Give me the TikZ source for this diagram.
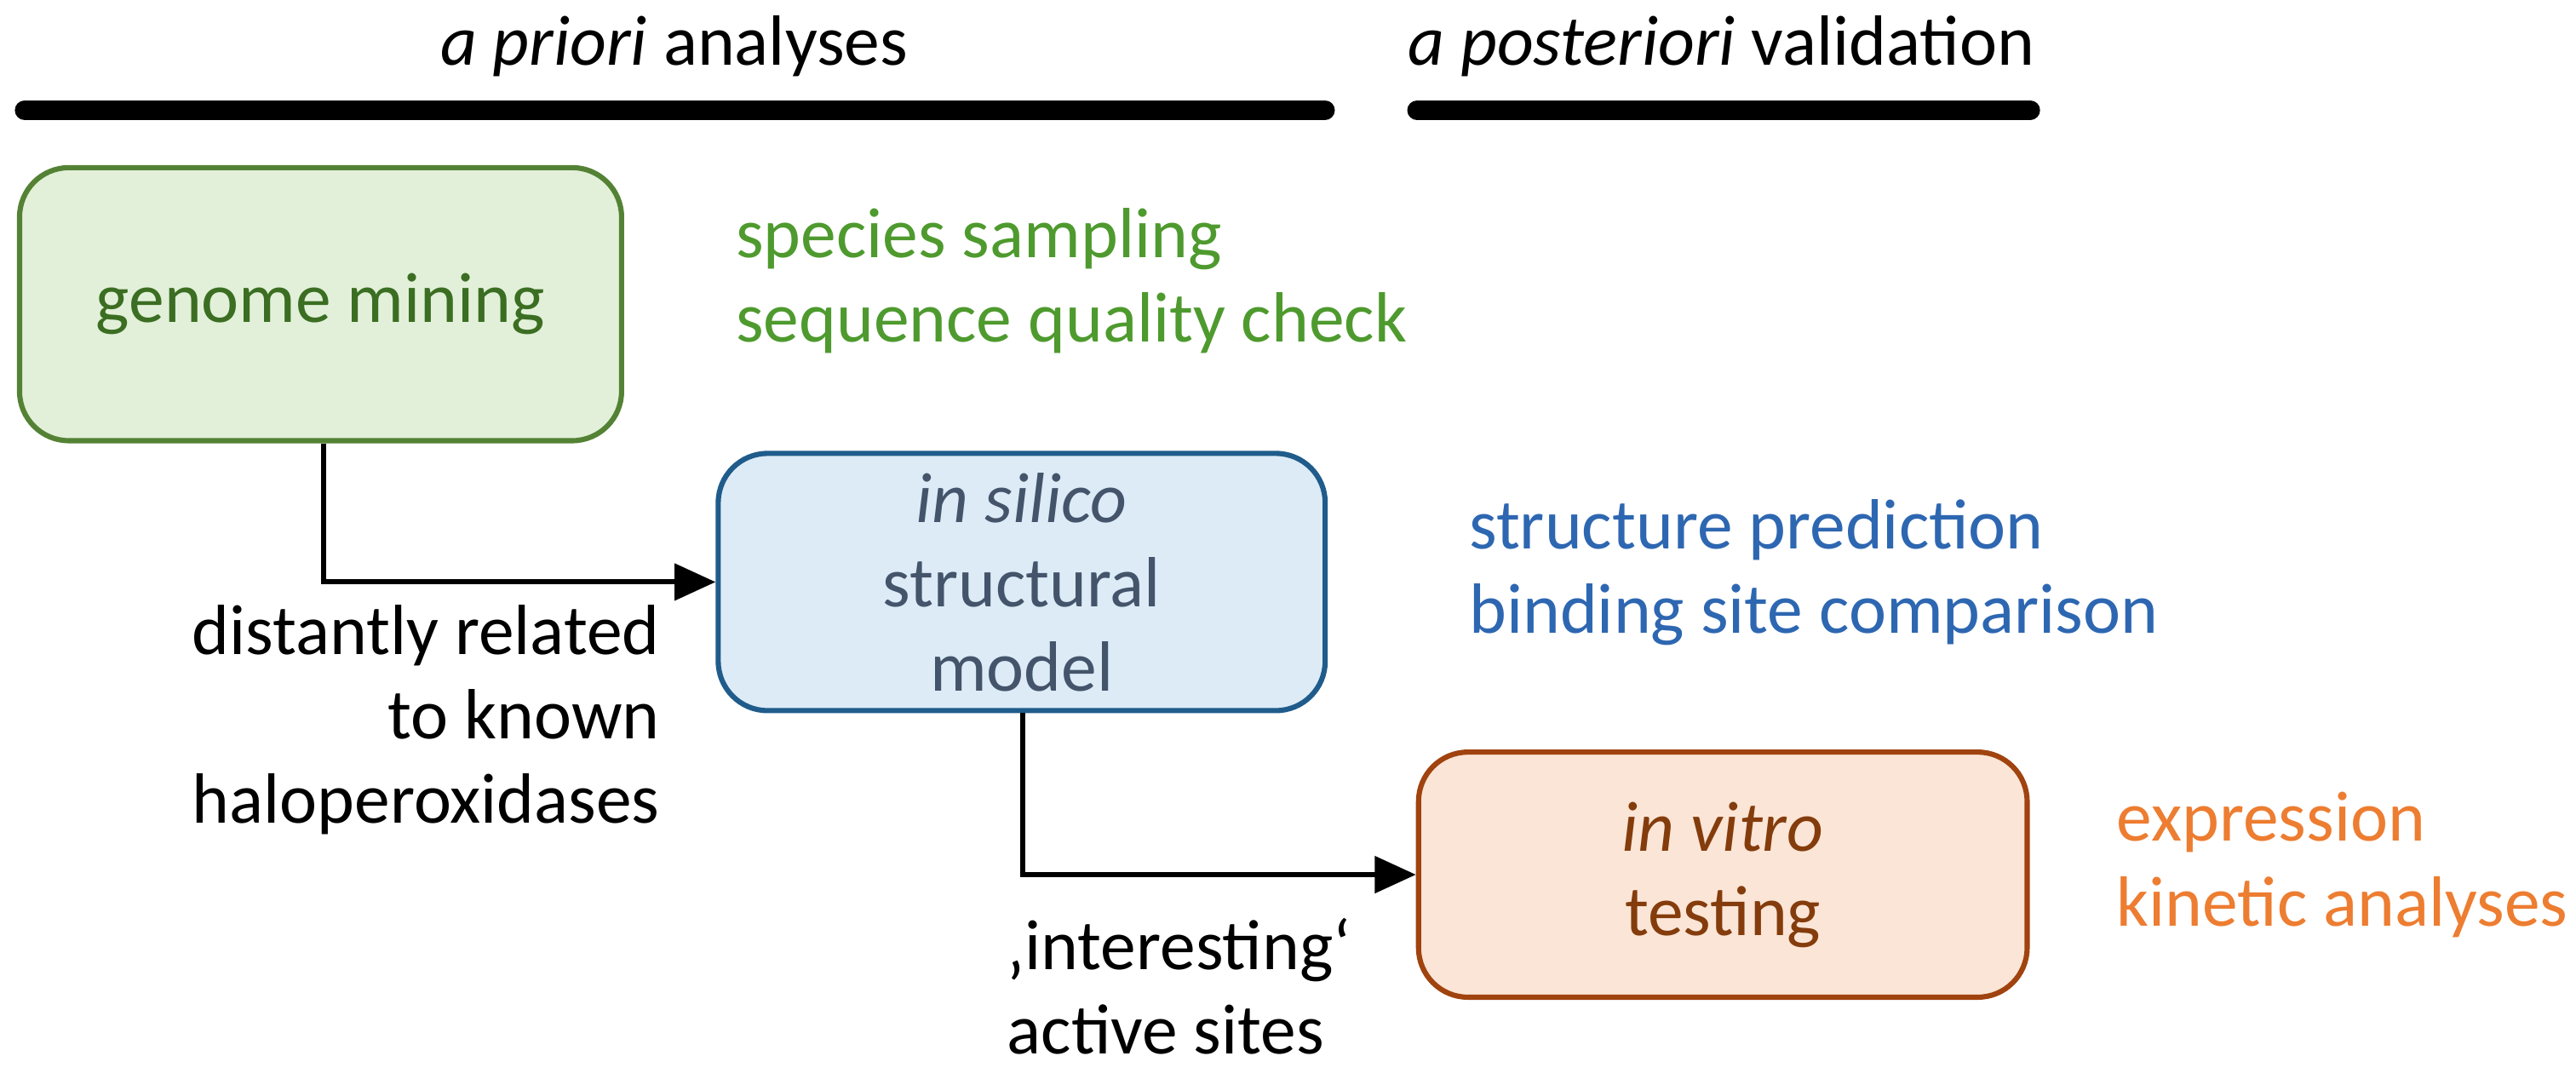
\documentclass[tikz,border=0pt]{standalone}
\usepackage{fontspec}
\setmainfont{Carlito}
\usetikzlibrary{arrows.meta}
\definecolor{gfill}{HTML}{E2F0D9}\definecolor{gdraw}{HTML}{548235}\definecolor{gtext}{HTML}{3B6E22}\definecolor{gside}{HTML}{4E9A2E}
\definecolor{bfill}{HTML}{DDEBF7}\definecolor{bdraw}{HTML}{1F5C8B}\definecolor{btext}{HTML}{44546A}\definecolor{bside}{HTML}{2E67B1}
\definecolor{ofill}{HTML}{FBE5D6}\definecolor{odraw}{HTML}{A0430F}\definecolor{otext}{HTML}{843C0C}\definecolor{oside}{HTML}{ED7D31}
\begin{document}
\begin{tikzpicture}[x=0.01cm,y=-0.01cm,
 box/.style={rounded corners=0.3cm,line width=0.9pt,minimum width=3.66cm,minimum height=1.6cm,align=center,font=\fontsize{12.3}{14.6}\selectfont},
 txt/.style={font=\fontsize{12.3}{14.6}\selectfont,inner sep=0pt},
 bar/.style={line width=3.4pt,line cap=round},
 arr/.style={line width=0.9pt,-{Triangle[length=0.25cm,width=0.22cm]}}]
\useasboundingbox (0,0) rectangle (1567,656);
\node[txt] (h1) at (410,28) {\textit{a priori} analyses};
\node[txt] (h2) at (1047,28) {\textit{a posteriori} validation};
\coordinate (b1a) at (15,67); \coordinate (b1b) at (806,67);
\coordinate (b2a) at (862,67); \coordinate (b2b) at (1235,67);
\draw[bar] (b1a) -- (b1b); \draw[bar] (b2a) -- (b2b);
\node[box,fill=gfill,draw=gdraw,text=gtext,minimum height=1.66cm] (g) at (195,185) {genome mining};
\node[box,fill=bfill,draw=bdraw,text=btext,minimum width=3.69cm,minimum height=1.48cm] (s) at (621.5,354) {\textit{in silico}\\structural\\model};
\node[box,fill=ofill,draw=odraw,text=otext,minimum width=3.7cm,minimum height=1.49cm] (v) at (1048,532) {\textit{in vitro}\\testing};
\node[txt,text=gside,anchor=west,align=left] (gs) at (447,171) {species sampling\\sequence quality check};
\node[txt,text=bside,anchor=west,align=left] (bs) at (893,348) {structure prediction\\binding site comparison};
\node[txt,text=oside,anchor=west,align=left] (os) at (1287,526) {expression\\kinetic analyses};
\draw[arr] (g.south -| 197,0) |- (s.west);
\draw[arr] (s.south -| 622,0) |- (v.west);
\node[txt,anchor=east,align=right] (l1) at (402,438) {distantly related\\to known\\haloperoxidases};
\node[txt,anchor=west,align=left] (l2) at (612,600) {‚interesting‘\\active sites};
\end{tikzpicture}
\end{document}
